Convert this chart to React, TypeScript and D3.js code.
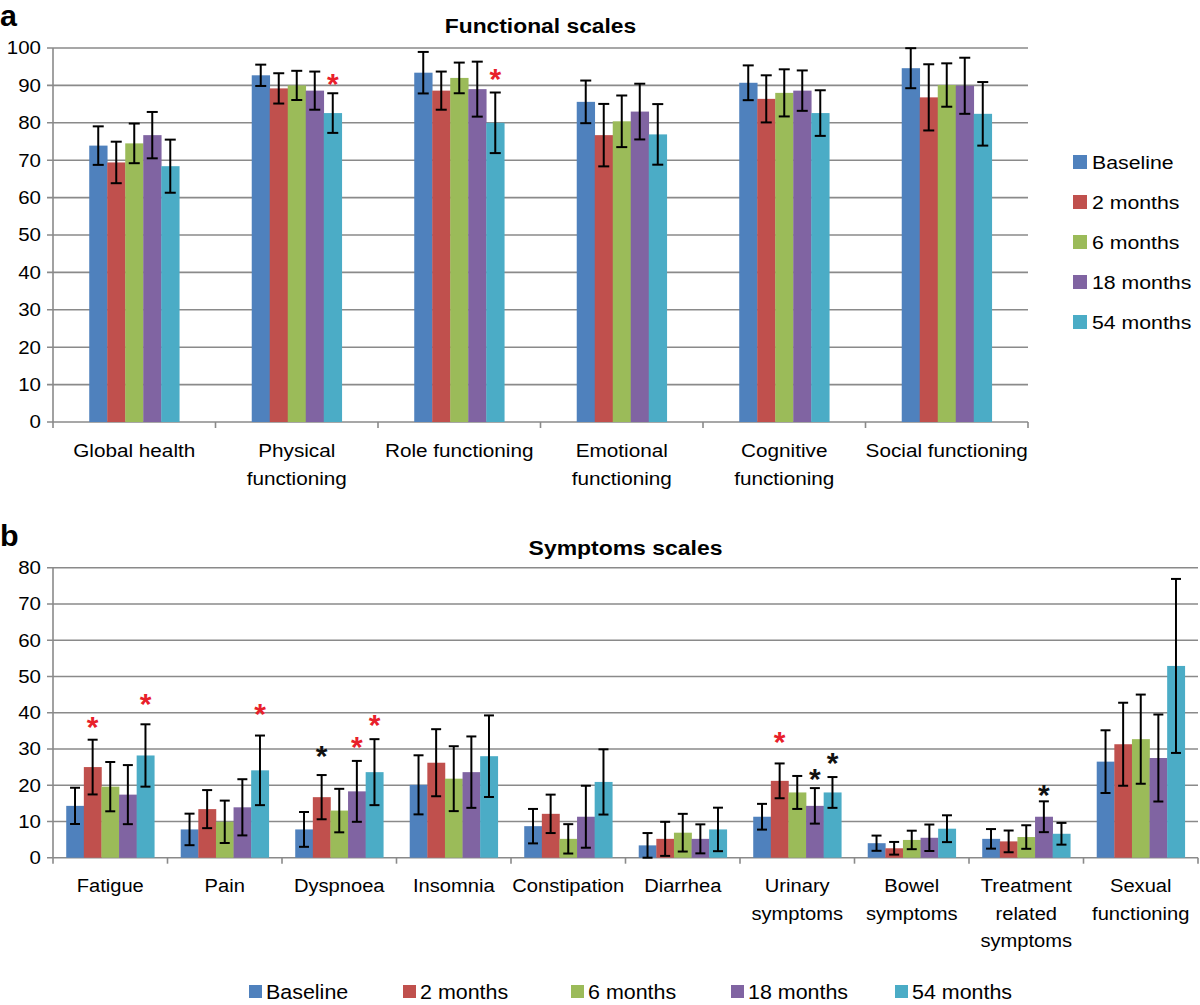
import React from "react";
import * as d3 from "d3";

// ---------- data ----------
const seriesNames = ["Baseline", "2 months", "6 months", "18 months", "54 months"];
const seriesColors = ["#4F81BD", "#C0504D", "#9BBB59", "#8064A2", "#4BACC6"];

// Panel a: functional scales
const funcCategories = ["Global health", "Physical\nfunctioning", "Role functioning", "Emotional\nfunctioning", "Cognitive\nfunctioning", "Social functioning"];
const funcBaseline = [73.9, 92.7, 93.4, 85.6, 90.7, 94.6];
const func2m = [69.4, 89.2, 88.6, 76.7, 86.4, 86.8];
const func6m = [74.5, 90.0, 92.0, 80.4, 88.0, 90.1];
const func18m = [76.7, 88.6, 89.0, 83.0, 88.6, 89.9];
const func54m = [68.4, 82.6, 80.0, 76.9, 82.6, 82.4];
const funcErrBaseline = [5.15, 2.85, 5.55, 5.7, 4.65, 5.35];
const funcErr2m = [5.55, 4.05, 5.1, 8.35, 6.3, 8.85];
const funcErr6m = [5.3, 3.9, 4.1, 6.9, 6.3, 5.8];
const funcErr18m = [6.2, 5.1, 7.35, 7.45, 5.4, 7.5];
const funcErr54m = [7.1, 5.3, 8.1, 8.1, 6.1, 8.5];
const funcTicks = [0, 10, 20, 30, 40, 50, 60, 70, 80, 90, 100];
// significance markers: [category index, series index, value, colour key]
const funcStars: [number, number, number, string][] = [
  [1, 4, 92.2, "red"],
  [2, 4, 93.6, "red"],
];

// Panel b: symptoms scales
const sympCategories = ["Fatigue", "Pain", "Dyspnoea", "Insomnia", "Constipation", "Diarrhea", "Urinary\nsymptoms", "Bowel\nsymptoms", "Treatment\nrelated\nsymptoms", "Sexual\nfunctioning"];
const sympBaseline = [14.3, 7.8, 7.8, 20.1, 8.7, 3.4, 11.3, 4.0, 5.2, 26.5];
const symp2m = [25.0, 13.4, 16.7, 26.2, 12.1, 5.2, 21.2, 2.6, 4.5, 31.3];
const symp6m = [19.6, 9.9, 13.0, 21.8, 5.2, 6.9, 18.0, 4.9, 5.7, 32.7];
const symp18m = [17.4, 13.9, 18.3, 23.6, 11.3, 5.2, 14.3, 5.5, 11.3, 27.5];
const symp54m = [28.2, 24.1, 23.6, 28.0, 20.9, 7.8, 18.0, 8.0, 6.6, 52.9];
const sympErrBaseline = [5.0, 4.35, 4.8, 8.15, 4.75, 3.4, 3.55, 2.1, 2.7, 8.65];
const sympErr2m = [7.55, 5.25, 6.1, 9.25, 5.3, 4.7, 4.8, 1.75, 3.0, 11.45];
const sympErr6m = [6.8, 5.85, 6.0, 8.95, 4.05, 5.2, 4.55, 2.55, 3.25, 12.3];
const sympErr18m = [8.15, 7.75, 8.4, 9.85, 8.55, 4.0, 4.9, 3.65, 4.25, 12.0];
const sympErr54m = [8.6, 9.6, 9.1, 11.25, 9.0, 6.0, 4.25, 3.7, 3.0, 24.0];
const sympTicks = [0, 10, 20, 30, 40, 50, 60, 70, 80];
const sympStars: [number, number, number, string][] = [
  [0, 1, 38.0, "red"],
  [0, 4, 44.4, "red"],
  [1, 4, 41.7, "red"],
  [2, 1, 29.9, "black"],
  [2, 3, 32.5, "red"],
  [2, 4, 38.5, "red"],
  [6, 1, 33.8, "red"],
  [6, 3, 23.7, "black"],
  [6, 4, 28.1, "black"],
  [8, 3, 19.1, "black"],
];

const funcValues = [funcBaseline, func2m, func6m, func18m, func54m];
const funcErrs = [funcErrBaseline, funcErr2m, funcErr6m, funcErr18m, funcErr54m];
const sympValues = [sympBaseline, symp2m, symp6m, symp18m, symp54m];
const sympErrs = [sympErrBaseline, sympErr2m, sympErr6m, sympErr18m, sympErr54m];

// ---------- style ----------
const FONT = "'Liberation Sans', Arial, Helvetica, sans-serif";
const GRID = "#8a8a8a";
const STAR_COLORS: Record<string, string> = { red: "#e8202a", black: "#111" };
const SX = 1.12;

function T(props: {
  x: number; y: number; text: string; anchor?: string; size: number; weight?: string; fill?: string; sx?: number;
}) {
  const { x, y, text, anchor = "middle", size, weight = "normal", fill = "#000", sx = SX } = props;
  return (
    <text
      transform={`translate(${x},${y}) scale(${sx},1)`}
      textAnchor={anchor}
      fontFamily={FONT}
      fontSize={size}
      fontWeight={weight}
      fill={fill}
    >
      {text}
    </text>
  );
}

type PanelProps = {
  categories: string[];
  values: number[][];
  errs: number[][];
  ticks: number[];
  stars: [number, number, number, string][];
  left: number; right: number; top: number; bottom: number;
  maxY: number;
  groupPadding: number;
  cap: number;
  labelY: number;
  labelLH: number;
  labelSize: number;
  labelSx: number;
};

function Panel(p: PanelProps) {
  const x0 = d3.scaleBand<number>()
    .domain(d3.range(p.categories.length))
    .range([p.left, p.right])
    .paddingInner(p.groupPadding)
    .paddingOuter(p.groupPadding / 2);
  const x1 = d3.scaleBand<number>().domain(d3.range(seriesNames.length)).range([0, x0.bandwidth()]).padding(0);
  const y = d3.scaleLinear().domain([0, p.maxY]).range([p.bottom, p.top]);
  const step = x0.step();
  const boundaries = d3.range(p.categories.length + 1).map((i) => p.left + i * step);

  return (
    <g>
      {/* gridlines */}
      {p.ticks.map((t) => (
        <line key={"g" + t} x1={p.left - 6} x2={p.right} y1={y(t)} y2={y(t)} stroke={GRID} strokeWidth={1.6} />
      ))}
      {/* y axis */}
      <line x1={p.left} x2={p.left} y1={y(p.maxY)} y2={y(0)} stroke={GRID} strokeWidth={1.6} />
      {/* x ticks */}
      {boundaries.map((bx, i) => (
        <line key={"xt" + i} x1={bx} x2={bx} y1={y(0)} y2={y(0) + 6} stroke={GRID} strokeWidth={1.6} />
      ))}
      {/* y tick labels */}
      {p.ticks.map((t) => (
        <T key={"yl" + t} x={p.left - 12} y={y(t) + 6.3} text={String(t)} anchor="end" size={17.5} sx={1.17} />
      ))}
      {/* bars */}
      {p.values.map((vals, s) =>
        vals.map((v, c) => (
          <rect
            key={`b${s}-${c}`}
            x={(x0(c) as number) + (x1(s) as number)}
            y={y(v)}
            width={x1.bandwidth() + 0.3}
            height={y(0) - y(v)}
            fill={seriesColors[s]}
          />
        ))
      )}
      {/* error bars */}
      {p.values.map((vals, s) =>
        vals.map((v, c) => {
          const cx = (x0(c) as number) + (x1(s) as number) + x1.bandwidth() / 2;
          const e = p.errs[s][c];
          const hi = y(v + e);
          const lo = y(Math.max(0, v - e));
          return (
            <g key={`e${s}-${c}`} stroke="#000" strokeWidth={2}>
              <line x1={cx} x2={cx} y1={hi} y2={lo} />
              <line x1={cx - p.cap / 2} x2={cx + p.cap / 2} y1={hi} y2={hi} />
              <line x1={cx - p.cap / 2} x2={cx + p.cap / 2} y1={lo} y2={lo} />
            </g>
          );
        })
      )}
      {/* stars */}
      {p.stars.map(([c, s, v, col], i) => {
        const cx = (x0(c) as number) + (x1(s) as number) + x1.bandwidth() / 2;
        return (
          <text key={"st" + i} x={cx} y={y(v) + 17} textAnchor="middle" fontFamily={FONT} fontSize={30} fontWeight="bold" fill={STAR_COLORS[col]}>
            *
          </text>
        );
      })}
      {/* category labels */}
      {p.categories.map((lab, c) => {
        const cx = p.left + (c + 0.5) * step;
        return (
          <g key={"cl" + c}>
            {lab.split("\n").map((ln, j) => (
              <T key={j} x={cx} y={p.labelY + j * p.labelLH} text={ln} size={p.labelSize} sx={p.labelSx} />
            ))}
          </g>
        );
      })}
    </g>
  );
}

export default function App() {
  const legendAx = 1073;
  const legendAy = [162, 202, 242, 282, 322];
  const legendBx = [249, 403, 571, 731, 895];
  return (
    <svg width={1200} height={1005} style={{ position: "absolute", left: 0, top: 0, background: "#fff" }}>
      <rect x={0} y={0} width={1200} height={1005} fill="#fff" />
      {/* Panel a */}
      <T x={0} y={26} text="a" anchor="start" size={29} weight="bold" sx={1.05} />
      <T x={540.5} y={33} text="Functional scales" size={19.5} weight="bold" sx={1.17} />
      <Panel
        categories={funcCategories}
        values={funcValues}
        errs={funcErrs}
        ticks={funcTicks}
        stars={funcStars}
        left={53}
        right={1028}
        top={48}
        bottom={422}
        maxY={100}
        groupPadding={0.446}
        cap={11}
        labelY={457}
        labelLH={28}
        labelSize={18.5}
        labelSx={1.12}
      />
      {seriesNames.map((n, i) => (
        <g key={"la" + i}>
          <rect x={legendAx} y={legendAy[i] - 7} width={14} height={14} fill={seriesColors[i]} />
          <T x={legendAx + 19} y={legendAy[i] + 6.5} text={n} anchor="start" size={18.5} sx={1.15} />
        </g>
      ))}

      {/* Panel b */}
      <T x={0} y={546} text="b" anchor="start" size={29} weight="bold" sx={1.05} />
      <T x={625.5} y={555} text="Symptoms scales" size={20.5} weight="bold" sx={1.12} />
      <Panel
        categories={sympCategories}
        values={sympValues}
        errs={sympErrs}
        ticks={sympTicks}
        stars={sympStars}
        left={53}
        right={1198}
        top={567.7}
        bottom={857.7}
        maxY={80}
        groupPadding={0.231}
        cap={10}
        labelY={892}
        labelLH={27.5}
        labelSize={19}
        labelSx={1.06}
      />
      {seriesNames.map((n, i) => (
        <g key={"lb" + i}>
          <rect x={legendBx[i]} y={985} width={13} height={13} fill={seriesColors[i]} />
          <T x={legendBx[i] + 17} y={999} text={n} anchor="start" size={19.5} sx={1.1} />
        </g>
      ))}
    </svg>
  );
}
